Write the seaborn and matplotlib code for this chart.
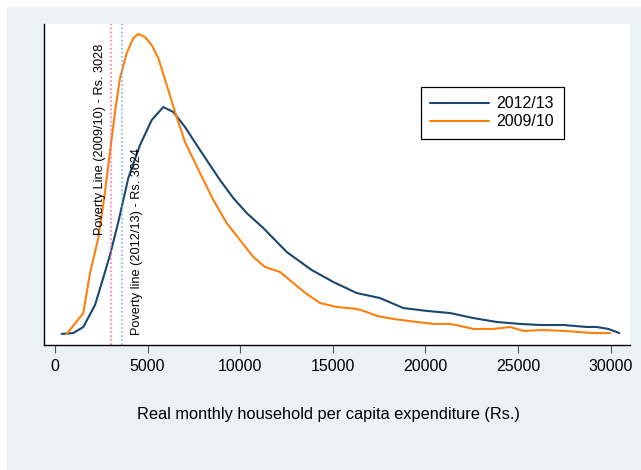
"""
Kernel density of real monthly household per capita expenditure, 2009/10 vs 2012/13
"""
import numpy as np
import pandas as pd
import matplotlib
matplotlib.use("Agg")
import matplotlib.pyplot as plt
from matplotlib.patches import Rectangle

import seaborn as sns

# Density values are in units of 1e-5 per Rs.
exp_1213 = [362, 988, 1528, 2160, 2521, 2969, 3418, 3957, 4589, 5221, 5847, 6387, 7019,
            7828, 8908, 9626, 10350, 11246, 12509, 13859, 15025, 16289, 17547, 18805,
            20068, 21326, 22584, 23847, 25105, 26185, 27443, 28706, 29246, 29873, 30466]
dens_1213 = [0.17, 0.22, 0.56, 1.79, 3.02, 4.59, 6.44, 8.90, 10.75, 12.15, 12.88, 12.60, 11.76,
             10.47, 8.79, 7.78, 6.94, 6.10, 4.76, 3.75, 3.08, 2.46, 2.18, 1.62,
             1.46, 1.34, 1.06, 0.84, 0.73, 0.67, 0.67, 0.56, 0.56, 0.45, 0.22]

exp_0910 = [632, 1528, 1890, 2338, 2699, 2969, 3239, 3509, 3871, 4227, 4497, 4859, 5221,
            5577, 6031, 6479, 7019, 7828, 8547, 9270, 9988, 10706, 11338, 12148, 12866,
            13589, 14307, 15209, 16289, 16829, 17369, 18265, 19528, 20425, 21326, 21866,
            22584, 23664, 24565, 25283, 26363, 27443, 29063, 29964]
dens_0910 = [0.17, 1.34, 3.58, 5.54, 8.12, 10.36, 12.60, 14.50, 15.90, 16.74, 16.97, 16.80, 16.35,
             15.62, 14.11, 12.60, 10.92, 9.18, 7.67, 6.38, 5.43, 4.48, 3.92, 3.64, 3.02,
             2.41, 1.90, 1.68, 1.57, 1.40, 1.18, 1.01, 0.84, 0.73, 0.73, 0.62,
             0.45, 0.45, 0.56, 0.34, 0.39, 0.34, 0.22, 0.22]

surveys = ["2012/13", "2009/10"]
poverty_lines = {"2009/10": 3028, "2012/13": 3624}
xticks = [0, 5000, 10000, 15000, 20000, 25000, 30000]

df = pd.concat([
    pd.DataFrame({"exp": exp_1213, "density": dens_1213, "survey": surveys[0]}),
    pd.DataFrame({"exp": exp_0910, "density": dens_0910, "survey": surveys[1]}),
])

sns.set_theme(style="white")
plt.rcParams["font.family"] = ["Liberation Sans", "DejaVu Sans"]
plt.rcParams["text.color"] = "black"
plt.rcParams["xtick.color"] = "black"

fig = plt.figure(figsize=(6.41, 4.70), dpi=100)
fig.patch.set_facecolor("white")
# Stata-like light bluish background, offset by a thin white margin
fig.patches.append(Rectangle((7 / 641, 0), 1, 1 - 7 / 470, transform=fig.transFigure,
                             facecolor="#eaf2f3", edgecolor="none", zorder=-10))

ax = fig.add_axes([44 / 641, 1 - 345 / 470, 586 / 641, 321 / 470])
ax.set_facecolor("white")

sns.lineplot(data=df, x="exp", y="density", hue="survey", hue_order=surveys,
             palette=["#1a476f", "#ff7f0e"], linewidth=1.5, sort=False,
             estimator=None, ax=ax)

ax.axvline(poverty_lines["2009/10"], color="#ff5fa8", linestyle=":", linewidth=1.1)
ax.axvline(poverty_lines["2012/13"], color="#5fa8f0", linestyle=":", linewidth=1.1)
ax.text(2429, 5.71, "Poverty Line (2009/10) - Rs. 3028", rotation=90,
        ha="center", va="bottom", fontsize=9.2)
ax.text(4427, 0.11, "Poverty line (2012/13) - Rs. 3624", rotation=90,
        ha="center", va="bottom", fontsize=9.2)

ax.set_xlim(-594, 31043)
ax.set_ylim(-0.45, 17.53)
ax.set_xticks(xticks)
ax.set_xticklabels([str(t) for t in xticks], fontsize=11.5)
ax.set_yticks([])
ax.tick_params(axis="x", direction="out", length=6, width=0.8, color="#555555", pad=4, bottom=True)
ax.set_xlabel("")
ax.set_ylabel("")

for side in ["top", "right"]:
    ax.spines[side].set_visible(False)
for side in ["left", "bottom"]:
    ax.spines[side].set_color("black")
    ax.spines[side].set_linewidth(1.0)

handles, labels = ax.get_legend_handles_labels()
leg = ax.legend(handles, labels, loc="upper left", bbox_to_anchor=(0.643, 0.805),
                borderaxespad=0, fontsize=11.5, handlelength=3.7, handletextpad=0.45,
                labelspacing=0.2, borderpad=0.6, fancybox=False, framealpha=1)
leg.get_frame().set_edgecolor("black")
leg.get_frame().set_linewidth(0.9)
for line in leg.get_lines():
    line.set_linewidth(1.5)

fig.text(328 / 641, 1 - 415 / 470, "Real monthly household per capita expenditure (Rs.)",
         ha="center", va="center", fontsize=11.8)

fig.savefig("out.png", dpi=100)
